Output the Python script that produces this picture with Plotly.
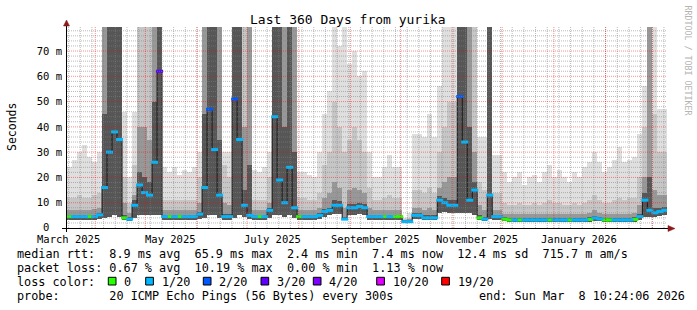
import pandas as pd
import plotly.graph_objects as go

# ---------------- data ----------------
TITLE = "Last 360 Days from yurika"
BIN_START = "2025-03-15 01:15"      # first 3-day bin
X_RANGE = ["2025-03-15 01:15", "2026-03-09 19:45"]
Y_RANGE = [0, 79.5]

# median rtt per 3-day bin (ms)
median_ms = [
    4.5, 4.5, 4.5, 4.5, 4.5, 4.5, 5.2, 16, 30, 38,
    35, 4, 3.5, 9, 17, 14, 13, 26, 62, 4.5,
    4.5, 4.5, 4.5, 4.5, 4.5, 4.5, 5.5, 16, 47, 31,
    13, 4.5, 4.5, 51, 35, 9, 5, 4.5, 4.5, 4.5,
    7, 44, 19, 10, 24, 8, 4.5, 4.5, 4.5, 4.5,
    5, 6.5, 7, 9, 9, 3.5, 8, 8, 8.5, 8,
    4.5, 4.5, 4.5, 4.5, 4.5, 4.5, 4.5, 2.5, 2.5, 5,
    5, 4, 4, 4, 11, 10, 9, 9, 52, 34,
    11, 15, 4, 3.5, 13, 4.5, 4.5, 3.5, 3.2, 3.2,
    3.2, 3.2, 3.2, 3.2, 3.2, 3.2, 3.2, 3.2, 3.2, 3.2,
    3.2, 3.2, 3.2, 3.2, 3.4, 4, 3.6, 3.2, 3.2, 3.2,
    3.2, 3.2, 3.2, 3.4, 4.5, 11, 7, 6, 6.5, 7,
]
# lost pings (of 20) per bin
loss_cnt = [
    0, 1, 1, 1, 0, 1, 1, 1, 1, 1,
    1, 0, 1, 1, 1, 1, 1, 1, 3, 1,
    0, 1, 0, 1, 1, 1, 1, 1, 2, 1,
    1, 1, 1, 2, 1, 1, 1, 1, 0, 1,
    1, 1, 1, 1, 1, 1, 0, 1, 1, 1,
    1, 1, 1, 1, 1, 1, 1, 1, 1, 1,
    1, 1, 1, 0, 1, 0, 0, 1, 1, 1,
    1, 1, 1, 1, 1, 1, 1, 1, 2, 1,
    1, 1, 0, 1, 1, 1, 1, 0, 0, 1,
    0, 1, 1, 1, 1, 1, 0, 1, 1, 1,
    0, 1, 1, 1, 0, 1, 1, 0, 0, 1,
    1, 1, 1, 0, 1, 1, 1, 1, 1, 1,
]
# smoke: bottom and tops of four grey bands (ms)
smoke_lo = [
    3.3, 3.3, 3.3, 3.3, 3.3, 3.3, 3.6, 4, 4.5, 5,
    4.5, 3, 2.8, 4, 5, 5, 5, 5, 5, 3.3,
    3.3, 3.3, 3.3, 3.3, 3.3, 3.3, 3.5, 4, 5, 5,
    4, 3.3, 3.3, 4, 5, 4.5, 3.6, 3.3, 3.3, 3.3,
    4, 5, 5, 4.5, 5, 4, 3.3, 3.3, 3.3, 3.3,
    3.6, 4.5, 5, 5.5, 5.5, 3, 5, 5, 5.5, 5,
    3.3, 3.3, 3.3, 3.3, 3.3, 3.3, 3.3, 1.8, 1.8, 3.6,
    3.6, 3, 3, 3, 6, 6.5, 6, 6, 6, 6,
    6, 5, 3, 2.6, 3.5, 3.3, 3.3, 2.6, 2.4, 2.4,
    2.4, 2.4, 2.4, 2.4, 2.4, 2.4, 2.4, 2.4, 2.4, 2.4,
    2.4, 2.4, 2.4, 2.4, 2.5, 2.8, 2.6, 2.4, 2.4, 2.4,
    2.4, 2.4, 2.4, 2.5, 3.3, 4.5, 4.5, 4.5, 4.8, 5,
]
smoke_dark = [
    5.3, 5.3, 5.3, 5.3, 5.3, 5.3, 6, 45, 80, 80,
    80, 5, 4.3, 11, 22, 20, 18, 50, 80, 5.3,
    5.3, 5.3, 5.3, 5.3, 5.3, 5.3, 6.5, 45, 80, 80,
    35, 5.5, 5.5, 80, 80, 15, 25, 5.3, 5.3, 5.3,
    8, 80, 80, 40, 80, 30, 5.3, 5.3, 5.3, 5.3,
    6, 7.5, 8, 11, 10.5, 4.5, 9.5, 9.5, 10, 9.5,
    5.3, 5.3, 5.3, 5.3, 5.3, 5.3, 5.3, 3, 3, 6,
    6, 5, 5, 5, 12.5, 12, 11, 11, 80, 80,
    40, 18, 5, 4.3, 80, 5.3, 5.3, 4.2, 4, 4,
    4, 4, 4, 4, 4, 4, 4, 4, 4, 4,
    4, 4, 4, 4, 4.2, 4.8, 4.4, 4, 4, 4,
    4, 4, 4, 4.2, 5.5, 14, 20, 8, 8, 8.5,
]
smoke_mid = [
    7, 7, 7, 7, 7, 7.5, 8, 80, 80, 80,
    80, 10, 6, 13, 40, 40, 35, 80, 80, 7,
    7, 7, 7, 7, 7, 7, 10, 80, 80, 80,
    80, 10, 9, 80, 80, 40, 80, 7, 7, 7,
    10, 80, 80, 80, 80, 80, 7, 7, 7, 7,
    8, 12, 14, 18, 16, 8, 15, 16, 15, 14,
    8, 7, 7, 7, 7, 7, 7, 3.2, 3.5, 8,
    8, 7, 8, 7, 16, 18, 20, 20, 80, 80,
    80, 30, 9, 7, 80, 7, 7, 5.5, 5.5, 5.5,
    5.5, 5.5, 5.5, 5.5, 5.5, 5.5, 5.5, 5.5, 5.5, 5.5,
    5.5, 5.5, 5.5, 5.5, 6, 7, 6, 5.5, 5.5, 5.5,
    5.5, 5.5, 5.5, 6, 9, 20, 80, 15, 13, 13,
]
smoke_light = [
    12, 12, 13, 12, 12, 13, 14, 80, 80, 80,
    80, 20, 10, 25, 80, 80, 80, 80, 80, 11,
    11, 11, 11, 11, 11, 11, 20, 80, 80, 80,
    80, 25, 20, 80, 80, 80, 80, 11, 11, 11,
    20, 80, 80, 80, 80, 80, 12, 12, 11, 11,
    14, 25, 30, 50, 40, 30, 35, 40, 35, 30,
    16, 11, 11, 12, 13, 12, 12, 3.5, 4, 15,
    15, 14, 16, 14, 30, 40, 50, 50, 80, 80,
    80, 80, 18, 15, 80, 14, 14, 10, 9, 9,
    10, 9, 9, 10, 9, 10, 11, 10, 10, 9,
    9, 10, 9, 10, 11, 13, 11, 10, 10, 11,
    12, 11, 12, 12, 20, 40, 56, 45, 30, 30,
]
smoke_max = [
    24, 27, 30, 33, 28, 26, 30, 80, 80, 80,
    80, 46, 20, 46, 80, 80, 80, 80, 80, 24,
    22, 24, 21, 23, 22, 24, 30, 80, 80, 80,
    80, 30, 30, 80, 80, 80, 80, 23, 22, 24,
    30, 80, 80, 80, 80, 80, 22, 22, 21, 20,
    30, 45, 54, 80, 72, 80, 65, 70, 60, 62,
    30, 20, 20, 24, 29, 24, 24, 4, 6, 37,
    37, 36, 45, 36, 56, 80, 80, 80, 80, 80,
    80, 80, 36, 36, 80, 29, 29, 22, 18, 20,
    22, 17, 20, 21, 18, 22, 25, 20, 23, 20,
    18, 22, 20, 24, 26, 30, 26, 22, 24, 27,
    32, 26, 27, 28, 37, 56, 80, 80, 47, 47,
]

loss_levels = [0, 1, 2, 3, 4, 10, 19]
loss_colors = ["#26ff00", "#00b8ff", "#0059ff", "#5e00ff", "#7e00ff", "#dd00ff", "#ff0000"]
loss_labels = ["0", "1/20", "2/20", "3/20", "4/20", "10/20", "19/20"]

month_starts = ["2025-04-01", "2025-05-01", "2025-06-01", "2025-07-01", "2025-08-01",
                "2025-09-01", "2025-10-01", "2025-11-01", "2025-12-01", "2026-01-01",
                "2026-02-01", "2026-03-01"]
month_labels = ["March 2025", "May 2025", "July 2025", "September 2025",
                "November 2025", "January 2026"]
month_label_at = ["2025-03-16", "2025-05-16", "2025-07-16", "2025-09-16",
                  "2025-11-16", "2026-01-16"]
week_first_sunday = "2025-03-16"
week_last_sunday = "2026-03-08"

y_ticks = [10, 20, 30, 40, 50, 60, 70]
y_ticktext = ["10 m", "20 m", "30 m", "40 m", "50 m", "60 m", "70 m"]
y_zero_label = "0"
y_minor_step = 2

legend_line1 = "median rtt:  8.9 ms avg  65.9 ms max  2.4 ms min  7.4 ms now  12.4 ms sd  715.7 m am/s"
legend_line2 = "packet loss: 0.67 % avg  10.19 % max  0.00 % min  1.13 % now"
legend_line3 = "loss color:"
legend_line4 = "probe:       20 ICMP Echo Pings (56 Bytes) every 300s"
legend_end = "end: Sun Mar  8 10:24:06 2026"
watermark = "RRDTOOL / TOBI OETIKER"

# ---------------- layout helpers ----------------
W, H = 697, 310
PL, PR, PT, PB = 67, 667, 27, 228
MONO = "DejaVu Sans Mono"


def px2x(px):
    return (px - PL) / (PR - PL)


def py2y(py):
    return (PB - py) / (PB - PT)


def nb(s):
    return s.replace(" ", "\u00a0")


bin_centers = pd.date_range(BIN_START, periods=len(median_ms), freq="3D") + pd.Timedelta(hours=36)
bin_width = 3 * 86400000

fig = go.Figure()

bands = [
    (smoke_max, "#dfdfdf"),
    (smoke_light, "#c6c6c6"),
    (smoke_mid, "#989898"),
    (smoke_dark, "#565656"),
]
for top, col in bands:
    fig.add_trace(go.Bar(
        x=bin_centers, y=[t - l for t, l in zip(top, smoke_lo)], base=smoke_lo,
        width=bin_width, marker=dict(color=col, line=dict(width=0)),
        hoverinfo="skip", showlegend=False))

fig.add_trace(go.Scatter(
    x=bin_centers, y=median_ms, mode="lines",
    line=dict(color="#1a1a1a", width=1, shape="hvh"),
    hoverinfo="skip", showlegend=False))

for lvl, col in zip(loss_levels, loss_colors):
    idx = [i for i, l in enumerate(loss_cnt) if l == lvl]
    if not idx:
        continue
    fig.add_trace(go.Scatter(
        x=[bin_centers[i] for i in idx], y=[median_ms[i] for i in idx],
        mode="markers",
        marker=dict(symbol="line-ew", size=5, color=col, line=dict(width=3, color=col)),
        hoverinfo="skip", showlegend=False))

shapes = []
# grid (drawn above the smoke like rrdtool)
minor_col = "rgba(130,130,130,0.55)"
major_col = "rgba(255,0,0,0.45)"
for d in pd.date_range(week_first_sunday, week_last_sunday, freq="7D"):
    shapes.append(dict(type="line", xref="x", yref="paper", x0=d, x1=d, y0=0, y1=1,
                       line=dict(color=minor_col, width=1, dash="1px,1px"), layer="above"))
for v in range(y_minor_step, int(Y_RANGE[1]) + 1, y_minor_step):
    if v % 10 == 0:
        continue
    shapes.append(dict(type="line", xref="paper", yref="y", x0=0, x1=1, y0=v, y1=v,
                       line=dict(color=minor_col, width=1, dash="1px,1px"), layer="above"))
for d in month_starts:
    shapes.append(dict(type="line", xref="x", yref="paper", x0=d, x1=d, y0=0, y1=1,
                       line=dict(color=major_col, width=1, dash="1px,1px"), layer="above"))
for v in y_ticks:
    shapes.append(dict(type="line", xref="paper", yref="y", x0=0, x1=1, y0=v, y1=v,
                       line=dict(color=major_col, width=1, dash="1px,1px"), layer="above"))

# axes and arrows
axis_col = "#000000"
arrow_col = "#8b1a1a"
shapes.append(dict(type="line", xref="paper", yref="paper", x0=px2x(62), x1=px2x(669),
                   y0=py2y(228.5), y1=py2y(228.5), line=dict(color=axis_col, width=1), layer="above"))
shapes.append(dict(type="line", xref="paper", yref="paper", x0=px2x(66.5), x1=px2x(66.5),
                   y0=py2y(232), y1=py2y(25), line=dict(color=axis_col, width=1), layer="above"))
shapes.append(dict(type="path", xref="paper", yref="paper", layer="above",
                   path=f"M {px2x(63.5)},{py2y(26)} L {px2x(69.5)},{py2y(26)} L {px2x(66.5)},{py2y(20)} Z",
                   fillcolor=arrow_col, line=dict(color=arrow_col, width=0.5)))
shapes.append(dict(type="path", xref="paper", yref="paper", layer="above",
                   path=f"M {px2x(668)},{py2y(225.5)} L {px2x(668)},{py2y(231.5)} L {px2x(675)},{py2y(228.5)} Z",
                   fillcolor=arrow_col, line=dict(color=arrow_col, width=0.5)))

annotations = []


def text_at(px, py, s, size=11.8, xanchor="left", color="#000000", angle=0, xref="paper"):
    annotations.append(dict(
        x=px if xref == "x" else px2x(px), y=py2y(py), xref=xref, yref="paper",
        text=nb(s), showarrow=False, xanchor=xanchor, yanchor="middle",
        textangle=angle, font=dict(family=MONO, size=size, color=color), borderpad=0))


# title, axis title, watermark
text_at(348, 19.5, TITLE, size=13, xanchor="center")
text_at(12, 127, "Seconds", size=11.5, xanchor="center", angle=-90)
text_at(687.5, 60, watermark, size=8.3, xanchor="center", color="#b4b4b4", angle=90)
text_at(46, 226.5, y_zero_label, size=10.5, xanchor="center")

# month labels
for d, lab in zip(month_label_at, month_labels):
    text_at(d, 238.5, lab, size=10.5, xanchor="center", xref="x")

# legend
text_at(16, 254, legend_line1)
text_at(16, 268, legend_line2)
text_at(16, 282, legend_line3)
sq_left = [108.3, 145.7, 203.3, 261, 313.3, 376.7, 441.7]
for x0, col, lab in zip(sq_left, loss_colors, loss_labels):
    shapes.append(dict(type="rect", xref="paper", yref="paper", layer="above",
                       x0=px2x(x0), x1=px2x(x0 + 7.7), y0=py2y(285), y1=py2y(277.3),
                       fillcolor=col, line=dict(color="#000000", width=1)))
    text_at(x0 + 15, 282, lab)
text_at(16, 296, legend_line4)
text_at(478.3, 296, legend_end)

fig.update_layout(
    width=W, height=H, autosize=False,
    margin=dict(l=PL, r=W - PR, t=PT, b=H - PB, pad=0),
    paper_bgcolor="#ffffff", plot_bgcolor="#ffffff",
    barmode="overlay", bargap=0,
    showlegend=False,
    shapes=shapes, annotations=annotations,
    xaxis=dict(type="date", range=X_RANGE, showgrid=False, zeroline=False,
               showticklabels=False, ticks="", showline=False, fixedrange=True),
    yaxis=dict(range=Y_RANGE, tickmode="array", tickvals=y_ticks,
               ticktext=[nb(t) for t in y_ticktext], showgrid=False, zeroline=False,
               ticks="", showline=False, ticklabelstandoff=4,
               tickfont=dict(family=MONO, size=10.5, color="#000000"), fixedrange=True),
)

fig.write_html("out.html")
